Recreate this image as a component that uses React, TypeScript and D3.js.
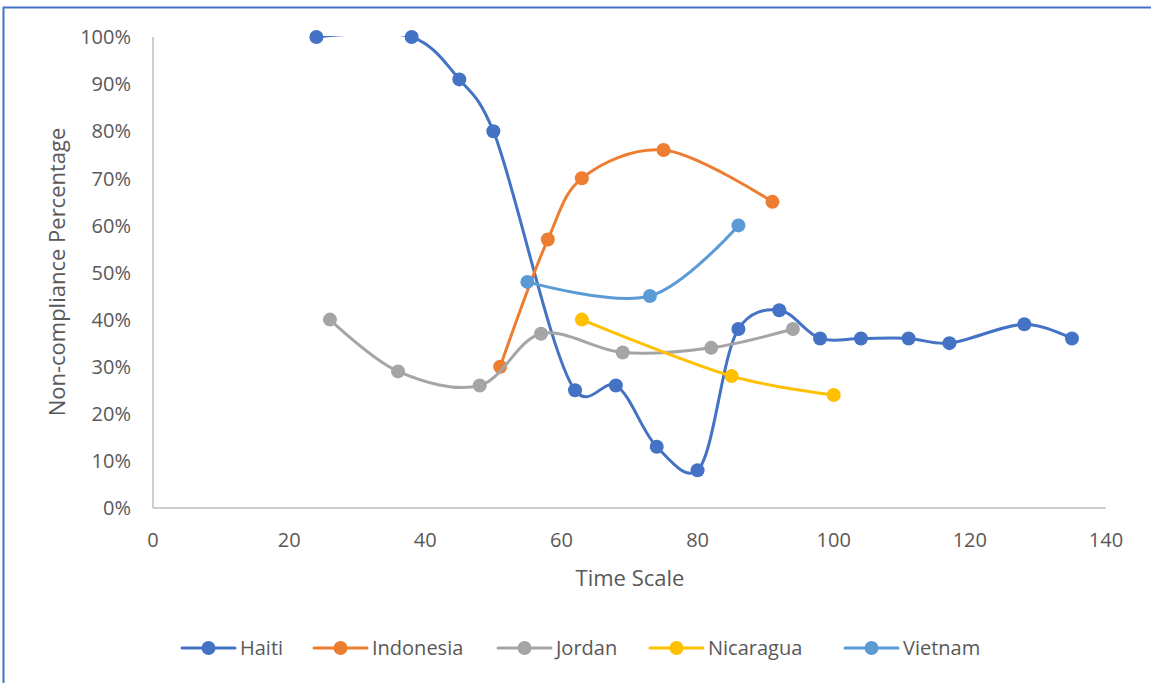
import React from "react";
import * as d3 from "d3";

const haitiX = [24, 38, 45, 50, 62, 68, 74, 80, 86, 92, 98, 104, 111, 117, 128, 135];
const haitiY = [100, 100, 91, 80, 25, 26, 13, 8, 38, 42, 36, 36, 36, 35, 39, 36];
const indonesiaX = [51, 58, 63, 75, 91];
const indonesiaY = [30, 57, 70, 76, 65];
const jordanX = [26, 36, 48, 57, 69, 82, 94];
const jordanY = [40, 29, 26, 37, 33, 34, 38];
const nicaraguaX = [63, 85, 100];
const nicaraguaY = [40, 28, 24];
const vietnamX = [55, 73, 86];
const vietnamY = [48, 45, 60];

const xTicks = [0, 20, 40, 60, 80, 100, 120, 140];
const yTicks = [0, 10, 20, 30, 40, 50, 60, 70, 80, 90, 100];

const series = [
  { name: "Haiti", xs: haitiX, ys: haitiY, color: "#4472C4", lx: 182 },
  { name: "Indonesia", xs: indonesiaX, ys: indonesiaY, color: "#ED7D31", lx: 314 },
  { name: "Jordan", xs: jordanX, ys: jordanY, color: "#A5A5A5", lx: 498 },
  { name: "Nicaragua", xs: nicaraguaX, ys: nicaraguaY, color: "#FFC000", lx: 650 },
  { name: "Vietnam", xs: vietnamX, ys: vietnamY, color: "#5B9BD5", lx: 845 },
];

const W = 1151;
const H = 683;
const left = 153;
const right = 1106;
const top = 37;
const bottom = 508;
const font = "'Open Sans', sans-serif";

export default function App() {
  const x = d3.scaleLinear().domain([0, 140]).range([left, right]);
  const y = d3.scaleLinear().domain([0, 100]).range([bottom, top]);
  const line = d3
    .line<[number, number]>()
    .x((d) => x(d[0]))
    .y((d) => y(d[1]))
    .curve(d3.curveCatmullRom.alpha(0.25));

  return (
    <svg
      width={W}
      height={H}
      style={{ position: "fixed", left: 0, top: 0, background: "#fff" }}
      fontFamily={font}
    >
      <defs>
        <clipPath id="plot">
          <rect x={left} y={top - 1} width={right - left} height={bottom - top + 1} />
        </clipPath>
      </defs>
      <rect x={0} y={0} width={W} height={H} fill="#fff" />
      <rect x={3.5} y={7.5} width={W + 20} height={H + 20} fill="none" stroke="#4472C4" strokeWidth={2} />

      {/* axes */}
      <line x1={left} x2={left} y1={top} y2={bottom} stroke="#BFBFBF" strokeWidth={1.5} />
      <line x1={left} x2={right} y1={bottom} y2={bottom} stroke="#BFBFBF" strokeWidth={1.5} />

      {yTicks.map((t) => (
        <text key={t} x={131} y={y(t)} dy="0.36em" textAnchor="end" fontSize={20} fill="#595959">
          {t}%
        </text>
      ))}
      {xTicks.map((t) => (
        <text key={t} x={x(t)} y={540} dy="0.36em" textAnchor="middle" fontSize={20} fill="#595959">
          {t}
        </text>
      ))}

      <text
        transform={`translate(57,272) rotate(-90)`}
        textAnchor="middle"
        dy="0.36em"
        fontSize={22}
        fill="#595959"
      >
        Non-compliance Percentage
      </text>
      <text x={630} y={578} textAnchor="middle" dy="0.36em" fontSize={22} fill="#595959">
        Time Scale
      </text>

      {/* series */}
      {series.map((s) => {
        const pts = s.xs.map((v, i) => [v, s.ys[i]] as [number, number]);
        return (
          <g key={s.name}>
            <path
              d={line(pts) || ""}
              fill="none"
              stroke={s.color}
              strokeWidth={3}
              strokeLinecap="round"
              clipPath="url(#plot)"
            />
            {pts.map((p, i) => (
              <circle key={i} cx={x(p[0])} cy={y(p[1])} r={7} fill={s.color} />
            ))}
          </g>
        );
      })}

      {/* legend */}
      {series.map((s) => (
        <g key={s.name}>
          <line x1={s.lx} x2={s.lx + 53} y1={648} y2={648} stroke={s.color} strokeWidth={3} strokeLinecap="round" />
          <circle cx={s.lx + 26.5} cy={648} r={7} fill={s.color} />
          <text x={s.lx + 58} y={648} dy="0.36em" fontSize={20} fill="#595959">
            {s.name}
          </text>
        </g>
      ))}
    </svg>
  );
}
